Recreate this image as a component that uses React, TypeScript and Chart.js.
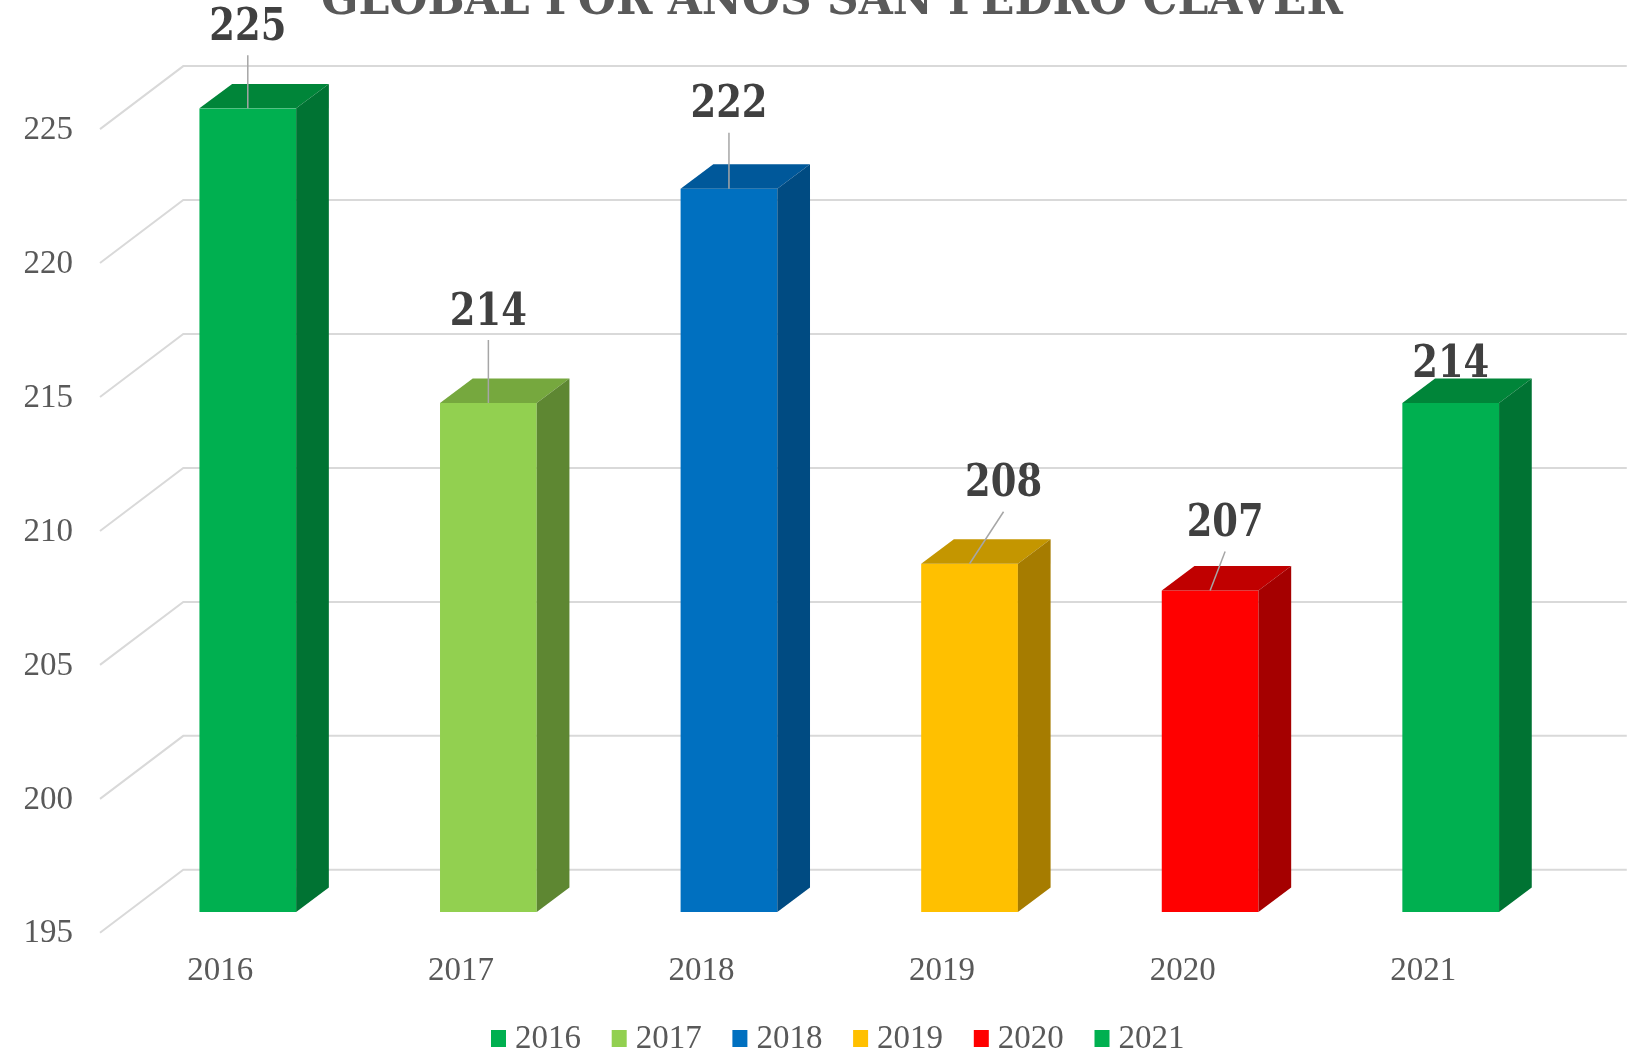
import React, { useEffect, useRef } from "react";
import { Chart, registerables } from "chart.js";

Chart.register(...registerables);

const categories = ["2016", "2017", "2018", "2019", "2020", "2021"];
const values = [225, 214, 222, 208, 207, 214];
const yTicks = [195, 200, 205, 210, 215, 220, 225];
const frontColors = ["#00B050", "#92D050", "#0070C0", "#FFC000", "#FF0000", "#00B050"];
const sideColors = ["#007333", "#5E8732", "#004B82", "#A67C00", "#A50000", "#007333"];
const topColors = ["#008539", "#76A83E", "#00589A", "#C49600", "#C00000", "#008539"];
const titleText = "GLOBAL POR AÑOS SAN PEDRO CLAVER";
// data label offsets from the bar's front-top centre (px) and whether a leader line is shown
const labelOffsets = [[0, -82], [0, -92], [0, -85], [34, -81], [15, -68], [0, -40]];
const leaderFlags = [true, true, true, true, true, false];

const BAR_DX = 32.7;
const BAR_DY = -24.4;
const FRONT = 20.8;
const BACK = -42.2;
const SLOPE = 1.322;
const TEXT_COLOR = "#595959";
const GRID_COLOR = "#D9D9D9";
const SERIF = "'Liberation Serif', 'DejaVu Serif', serif";
const SLAB = "'DejaVu Serif', 'Liberation Serif', serif";

const threeD = {
  id: "threeD",
  beforeDatasetsDraw(chart: any) {
    const { ctx, chartArea: a, scales } = chart;
    const y = scales.y;
    const x = scales.x;
    ctx.save();
    const bL = a.left - BACK * SLOPE;
    const bR = a.right - BACK * SLOPE;
    const fL = a.left - FRONT * SLOPE;
    ctx.strokeStyle = GRID_COLOR;
    ctx.lineWidth = 2;
    for (const v of yTicks) {
      const py = y.getPixelForValue(v);
      ctx.beginPath();
      ctx.moveTo(fL, py + FRONT);
      ctx.lineTo(bL, py + BACK);
      ctx.lineTo(bR, py + BACK);
      ctx.stroke();
    }
    // y tick labels
    ctx.fillStyle = TEXT_COLOR;
    ctx.font = `33px ${SERIF}`;
    ctx.textAlign = "right";
    ctx.textBaseline = "middle";
    for (const v of yTicks) {
      const py = y.getPixelForValue(v);
      ctx.fillText(String(v), 73, py + FRONT + 1);
    }
    // category labels
    ctx.textAlign = "center";
    categories.forEach((c, i) => {
      ctx.fillText(c, x.getPixelForValue(i) - FRONT * SLOPE, a.bottom + 59.5);
    });
    // title
    ctx.font = `bold 46px ${SLAB}`;
    ctx.textBaseline = "alphabetic";
    ctx.fillText(titleText, 832, 14, 1022);
    // legend
    ctx.font = `33px ${SERIF}`;
    ctx.textAlign = "left";
    ctx.textBaseline = "middle";
    categories.forEach((c, i) => {
      const lx = 491 + i * 120.7;
      ctx.fillStyle = frontColors[i];
      ctx.fillRect(lx, 1030, 15, 17);
      ctx.fillStyle = TEXT_COLOR;
      ctx.fillText(c, lx + 24, 1039);
    });
    ctx.restore();
  },
  afterDatasetsDraw(chart: any) {
    const { ctx } = chart;
    const meta = chart.getDatasetMeta(0);
    const base = chart.scales.y.getPixelForValue(chart.scales.y.min);
    ctx.save();
    meta.data.forEach((bar: any, i: number) => {
      const { x, y, width } = bar.getProps(["x", "y", "width"], true);
      const l = x - width / 2;
      const r = x + width / 2;
      // top face
      ctx.fillStyle = topColors[i];
      ctx.beginPath();
      ctx.moveTo(l, y);
      ctx.lineTo(r, y);
      ctx.lineTo(r + BAR_DX, y + BAR_DY);
      ctx.lineTo(l + BAR_DX, y + BAR_DY);
      ctx.closePath();
      ctx.fill();
      // side face
      ctx.fillStyle = sideColors[i];
      ctx.beginPath();
      ctx.moveTo(r, y);
      ctx.lineTo(r + BAR_DX, y + BAR_DY);
      ctx.lineTo(r + BAR_DX, base + BAR_DY);
      ctx.lineTo(r, base);
      ctx.closePath();
      ctx.fill();
    });
    // data labels
    meta.data.forEach((bar: any, i: number) => {
      const { x, y } = bar.getProps(["x", "y"], true);
      const lx = x + labelOffsets[i][0];
      const ly = y + labelOffsets[i][1];
      if (leaderFlags[i]) {
        ctx.strokeStyle = "#A6A6A6";
        ctx.lineWidth = 1.5;
        ctx.beginPath();
        ctx.moveTo(lx, ly + 29);
        ctx.lineTo(x, y);
        ctx.stroke();
      }
      ctx.fillStyle = "#404040";
      ctx.font = `bold 45px ${SLAB}`;
      ctx.textAlign = "center";
      ctx.textBaseline = "middle";
      ctx.fillText(String(values[i]), lx, ly + 2, 77);
    });
    ctx.restore();
  },
};

export default function App() {
  const ref = useRef<HTMLCanvasElement>(null);
  useEffect(() => {
    if (!ref.current) return;
    const chart = new Chart(ref.current, {
      type: "bar",
      data: {
        labels: categories,
        datasets: [
          {
            label: "Global",
            data: values,
            backgroundColor: frontColors,
            borderWidth: 0,
            barPercentage: 0.402,
            categoryPercentage: 1,
          },
        ],
      },
      options: {
        responsive: false,
        animation: false,
        layout: { padding: { left: 127.5, right: 68, top: 108.3, bottom: 147 } },
        scales: {
          x: { display: false },
          y: { display: false, min: 195, max: 225 },
        },
        plugins: {
          legend: { display: false },
          tooltip: { enabled: false },
          title: { display: false },
        },
      },
      plugins: [threeD],
    });
    return () => chart.destroy();
  }, []);
  return (
    <canvas
      ref={ref}
      width={1639}
      height={1059}
      style={{ position: "fixed", left: 0, top: 0, width: 1639, height: 1059, background: "#fff" }}
    />
  );
}
